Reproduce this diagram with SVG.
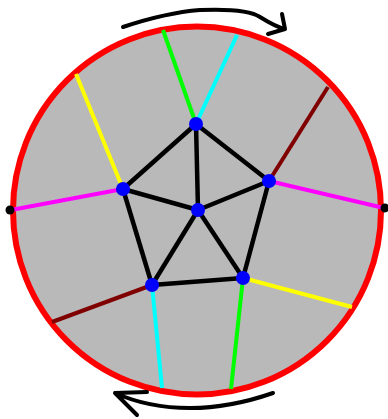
<svg xmlns="http://www.w3.org/2000/svg" width="388" height="419" viewBox="0 0 388 419">
<style>
.c{stroke-width:4;stroke-linecap:butt;fill:none}
.e{stroke:#000;stroke-width:4.5;fill:none}
.n{fill:#0000ff}
.a{stroke:#000;stroke-width:4;fill:none;stroke-linecap:round;stroke-linejoin:round}
</style>
<rect width="388" height="419" fill="#fff"/>
<circle cx="197" cy="210.5" r="184" fill="#b9b9b9" stroke="#ff0000" stroke-width="6"/>
<g id="connectors">
<line class="c" stroke="#00ff00" x1="163" y1="30" x2="196" y2="124"/>
<line class="c" stroke="#00ffff" x1="237" y1="35" x2="196" y2="124"/>
<line class="c" stroke="#ffff00" x1="76" y1="74" x2="123" y2="189"/>
<line class="c" stroke="#800000" x1="328" y1="87" x2="269" y2="181"/>
<line class="c" stroke="#ff00ff" x1="11" y1="210" x2="123" y2="189"/>
<line class="c" stroke="#ff00ff" x1="269" y1="181" x2="384" y2="208"/>
<line class="c" stroke="#800000" x1="52" y1="322" x2="152" y2="285"/>
<line class="c" stroke="#00ffff" x1="152" y1="285" x2="162" y2="388"/>
<line class="c" stroke="#00ff00" x1="243" y1="278" x2="231" y2="389"/>
<line class="c" stroke="#ffff00" x1="243" y1="278" x2="352" y2="307"/>
<line class="e" x1="196" y1="124" x2="123" y2="189"/>
<line class="e" x1="196" y1="124" x2="269" y2="181"/>
<line class="e" x1="196" y1="124" x2="198" y2="210"/>
<line class="e" x1="123" y1="189" x2="198" y2="210"/>
<line class="e" x1="269" y1="181" x2="198" y2="210"/>
<line class="e" x1="123" y1="189" x2="152" y2="285"/>
<line class="e" x1="269" y1="181" x2="243" y2="278"/>
<line class="e" x1="198" y1="210" x2="152" y2="285"/>
<line class="e" x1="198" y1="210" x2="243" y2="278"/>
<line class="e" x1="152" y1="285" x2="243" y2="278"/>
<circle cx="10" cy="210" r="4.5" fill="#000"/>
<circle cx="385" cy="208" r="4.5" fill="#000"/>
<path class="a" d="M123 27 C150 18 175 12 200 10 C225 9 250 10 260 17 C268 22 276 27 285 29 M282 14 L285 29 L268 34"/>
<path class="a" d="M273 393 C250 401 220 408 190 408 C160 408 135 402 115 393 M147 392 L115 393 L137 415"/>
</g>
<g id="n-top"><circle class="n" cx="196" cy="124" r="7"/></g>
<g id="n-left"><circle class="n" cx="123" cy="189" r="7"/></g>
<g id="n-right"><circle class="n" cx="269" cy="181" r="7"/></g>
<g id="n-center"><circle class="n" cx="198" cy="210" r="7"/></g>
<g id="n-bl"><circle class="n" cx="152" cy="285" r="7"/></g>
<g id="n-br"><circle class="n" cx="243" cy="278" r="7"/></g>
</svg>
